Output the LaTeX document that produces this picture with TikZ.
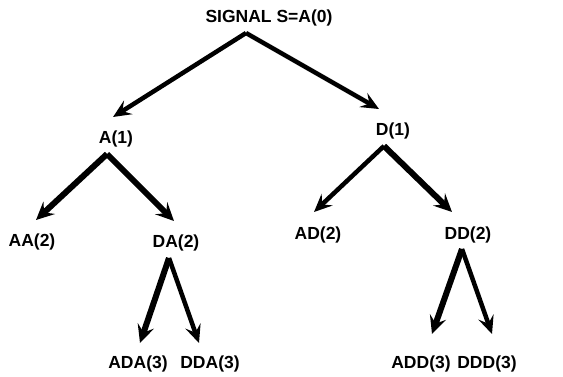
\documentclass[tikz,border=0pt]{standalone}
\usepackage{fontspec}
\setmainfont{Liberation Sans}
\usetikzlibrary{arrows.meta}
\begin{document}
\begin{tikzpicture}[x=1pt,y=-1pt,
  lbl/.style={font=\bfseries\fontsize{17.5}{19}\selectfont, anchor=base, inner sep=0pt},
  arr/.style={line width=4.5pt, -{Stealth[length=18pt,width=16pt,inset=7pt]}},
  arrb/.style={line width=6pt, -{Stealth[length=18pt,width=17pt,inset=7pt]}}]
\useasboundingbox (0,0) rectangle (563,376);
% labels
\node[lbl] (root) at (269,22.7) {SIGNAL S=A(0)};
\node[lbl] (a1) at (116,143) {A(1)};
\node[lbl] (d1) at (393,135) {D(1)};
\node[lbl] (aa2) at (32,246) {AA(2)};
\node[lbl] (da2) at (176,247) {DA(2)};
\node[lbl] (ad2) at (318,239) {AD(2)};
\node[lbl] (dd2) at (468,239) {DD(2)};
\node[lbl] (ada3) at (138,368) {ADA(3)};
\node[lbl] (dda3) at (210,368) {DDA(3)};
\node[lbl] (add3) at (421,368) {ADD(3)};
\node[lbl] (ddd3) at (487,368) {DDD(3)};
% connector ends
\coordinate (r0) at (246,33);
\coordinate (rL) at (113,117);
\coordinate (rR) at (379,109);
\coordinate (a0) at (107,154);
\coordinate (aL) at (36,220);
\coordinate (aR) at (174,221);
\coordinate (d0) at (384,146);
\coordinate (dL) at (314,212);
\coordinate (dR) at (452,212);
\coordinate (da0) at (169,258);
\coordinate (daL) at (140,343);
\coordinate (daR) at (199,343);
\coordinate (dd0) at (462,249);
\coordinate (ddL) at (432,334);
\coordinate (ddR) at (492,334);
% connectors
\draw[arr] (r0) -- (rL);
\draw[arr] (r0) -- (rR);
\draw[arrb] (a0) -- (aL);
\draw[arrb] (a0) -- (aR);
\draw[arr] (d0) -- (dL);
\draw[arrb] (d0) -- (dR);
\draw[arrb] (da0) -- (daL);
\draw[arr] (da0) -- (daR);
\draw[arrb] (dd0) -- (ddL);
\draw[arr] (dd0) -- (ddR);
\end{tikzpicture}
\end{document}
